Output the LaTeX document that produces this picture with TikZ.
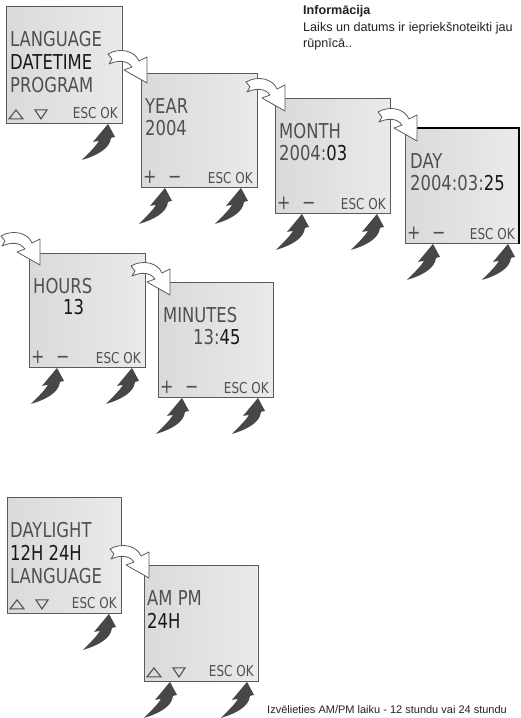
\documentclass[tikz,border=0pt]{standalone}
\usepackage{fontspec}
\setmainfont{Liberation Sans}
\newfontfamily\lcdfont[FakeStretch=0.8]{DejaVu Sans}
\definecolor{lcdgray}{HTML}{505050}
\definecolor{lcdblack}{HTML}{181818}
\definecolor{lcdA}{HTML}{DADADA}
\definecolor{lcdB}{HTML}{EAEAEA}
\definecolor{framecol}{HTML}{5A5A5A}
\definecolor{arrowdark}{HTML}{474747}
\definecolor{infotext}{HTML}{222222}
\tikzset{
  screen/.style={draw=framecol, line width=0.9pt, left color=lcdA, right color=lcdB,
    inner sep=0pt, anchor=north west},
  lcdtxt/.style={font=\lcdfont\fontsize{20.5}{20.5}\selectfont, inner sep=0pt,
    anchor=base west, text=lcdgray},
  lcdsel/.style={lcdtxt, text=lcdblack},
  keytxt/.style={font=\lcdfont\fontsize{15}{15}\selectfont, inner sep=0pt, text=lcdgray},
  signtxt/.style={font=\lcdfont\fontsize{20}{20}\selectfont, inner sep=0pt, text=lcdgray, anchor=base west},
  infotxt/.style={font=\fontsize{12.6}{15}\selectfont, inner sep=0pt, anchor=base west, text=infotext},
  hollowarrow/.pic={
    \draw[framecol, fill=white, line width=0.8pt, line join=round]
      (-2,-3) .. controls (10,-10) and (25,-6) .. (29,4) -- (37,0) -- (37,26)
      -- (14,13) -- (22,10) .. controls (17,3) and (8,3) .. (-1,7) -- (2,2) -- cycle;
  },
  pusharrow/.pic={
    \fill[arrowdark]
      (0,0) -- (7,13) -- (3,14) .. controls (2,25) and (-12,32) .. (-26,36)
      .. controls (-18,28) and (-12,22) .. (-9,17) -- (-15,18) -- cycle;
  },
  uptri/.pic={\draw[lcdgray, line width=1.1pt, line join=miter] (0,0) -- (14,0) -- (7,-9) -- cycle;},
  downtri/.pic={\draw[lcdgray, line width=1.1pt, line join=miter] (0,-9) -- (12,-9) -- (6,0) -- cycle;}
}
\begin{document}
\begin{tikzpicture}[x=1pt,y=-1pt]
\useasboundingbox (0,0) rectangle (520,718);

% ---------- info text ----------
\node[infotxt] (info1) at (303,14) {\textbf{Informācija}};
\node[infotxt] (info2) at (303,31) {Laiks un datums ir iepriekšnoteikti jau};
\node[infotxt] (info3) at (303,47) {rūpnīcā..};
\node[infotxt, font=\fontsize{11}{13}\selectfont] (info4) at (267,713) {Izvēlieties AM/PM laiku - 12 stundu vai 24 stundu};

% ---------- screens ----------
\node[screen, minimum width=116pt, minimum height=117pt] (b1) at (6,6) {};
\node[screen, minimum width=116pt, minimum height=114pt] (b2) at (141,73) {};
\node[screen, minimum width=115pt, minimum height=115pt] (b3) at (275,98) {};
\node[screen, minimum width=113pt, minimum height=115pt] (b4) at (405,128) {};
\draw[black, line width=1.3pt] (b4.north west) -- (b4.north east) -- (b4.south east);
\node[screen, minimum width=116pt, minimum height=114pt] (b5) at (29,253) {};
\node[screen, minimum width=115pt, minimum height=115pt] (b6) at (158,282) {};
\node[screen, minimum width=114pt, minimum height=116pt] (b7) at (7,497) {};
\node[screen, minimum width=114pt, minimum height=116pt] (b8) at (144,565) {};

% ---------- box 1 ----------
\node[lcdtxt] (b1a) at ([shift={(4,40)}]b1.north west) {LANGUAGE};
\node[lcdsel] (b1b) at ([shift={(4,63)}]b1.north west) {DATETIME};
\node[lcdtxt] (b1c) at ([shift={(4,86)}]b1.north west) {PROGRAM};
\pic at ([shift={(3,-5)}]b1.south west) {uptri};
\pic at ([shift={(29,-5)}]b1.south west) {downtri};
\node[keytxt, anchor=base east] (b1k) at ([shift={(-5,-5)}]b1.south east) {ESC OK};

% ---------- box 2 ----------
\node[lcdtxt] (b2a) at ([shift={(4,40)}]b2.north west) {YEAR};
\node[lcdtxt] (b2b) at ([shift={(4,62)}]b2.north west) {2004};
\node[signtxt] (b2p) at ([shift={(2,-4)}]b2.south west) {+};
\node[signtxt] (b2m) at ([shift={(27,-4)}]b2.south west) {−};
\node[keytxt, anchor=base east] (b2k) at ([shift={(-5,-4)}]b2.south east) {ESC OK};

% ---------- box 3 ----------
\node[lcdtxt] (b3a) at ([shift={(4,40)}]b3.north west) {MONTH};
\node[lcdtxt] (b3b) at ([shift={(4,62)}]b3.north west) {2004:\textcolor{lcdblack}{03}};
\node[signtxt] (b3p) at ([shift={(2,-4)}]b3.south west) {+};
\node[signtxt] (b3m) at ([shift={(27,-4)}]b3.south west) {−};
\node[keytxt, anchor=base east] (b3k) at ([shift={(-5,-4)}]b3.south east) {ESC OK};

% ---------- box 4 ----------
\node[lcdtxt] (b4a) at ([shift={(5,40)}]b4.north west) {DAY};
\node[lcdtxt] (b4b) at ([shift={(5,62)}]b4.north west) {2004:03:\textcolor{lcdblack}{25}};
\node[signtxt] (b4p) at ([shift={(2,-4)}]b4.south west) {+};
\node[signtxt] (b4m) at ([shift={(27,-4)}]b4.south west) {−};
\node[keytxt, anchor=base east] (b4k) at ([shift={(-4,-4)}]b4.south east) {ESC OK};

% ---------- box 5 ----------
\node[lcdtxt] (b5a) at ([shift={(4,40)}]b5.north west) {HOURS};
\node[lcdsel] (b5b) at ([shift={(34,61)}]b5.north west) {13};
\node[signtxt] (b5p) at ([shift={(2,-4)}]b5.south west) {+};
\node[signtxt] (b5m) at ([shift={(27,-4)}]b5.south west) {−};
\node[keytxt, anchor=base east] (b5k) at ([shift={(-5,-4)}]b5.south east) {ESC OK};

% ---------- box 6 ----------
\node[lcdtxt] (b6a) at ([shift={(5,40)}]b6.north west) {MINUTES};
\node[lcdtxt] (b6b) at ([shift={(35,62)}]b6.north west) {13:\textcolor{lcdblack}{45}};
\node[signtxt] (b6p) at ([shift={(2,-4)}]b6.south west) {+};
\node[signtxt] (b6m) at ([shift={(27,-4)}]b6.south west) {−};
\node[keytxt, anchor=base east] (b6k) at ([shift={(-5,-4)}]b6.south east) {ESC OK};

% ---------- box 7 ----------
\node[lcdtxt] (b7a) at ([shift={(3,40)}]b7.north west) {DAYLIGHT};
\node[lcdsel] (b7b) at ([shift={(3,63)}]b7.north west) {12H 24H};
\node[lcdtxt] (b7c) at ([shift={(3,86)}]b7.north west) {LANGUAGE};
\pic at ([shift={(3,-5)}]b7.south west) {uptri};
\pic at ([shift={(29,-5)}]b7.south west) {downtri};
\node[keytxt, anchor=base east] (b7k) at ([shift={(-5,-5)}]b7.south east) {ESC OK};

% ---------- box 8 ----------
\node[lcdtxt] (b8a) at ([shift={(3,40)}]b8.north west) {AM PM};
\node[lcdsel] (b8b) at ([shift={(3,63)}]b8.north west) {24H};
\pic at ([shift={(3,-5)}]b8.south west) {uptri};
\pic at ([shift={(29,-5)}]b8.south west) {downtri};
\node[keytxt, anchor=base east] (b8k) at ([shift={(-5,-5)}]b8.south east) {ESC OK};

% ---------- hollow transition arrows ----------
\pic at ([shift={(-31,-16)}]b2.north west) {hollowarrow};
\pic at ([shift={(-27,-13)}]b3.north west) {hollowarrow};
\pic at ([shift={(-25,-13)}]b4.north west) {hollowarrow};
\pic at ([shift={(-26,-14)}]b5.north west) {hollowarrow};
\pic at ([shift={(-25,-13)}]b6.north west) {hollowarrow};
\pic at ([shift={(-32,-13)}]b8.north west) {hollowarrow};

% ---------- push arrows ----------
\pic at ([shift={(102,0)}]b1.south west) {pusharrow};
\pic at ([shift={(24,0)}]b2.south west) {pusharrow};
\pic at ([shift={(100,0)}]b2.south west) {pusharrow};
\pic at ([shift={(27,0)}]b3.south west) {pusharrow};
\pic at ([shift={(102,0)}]b3.south west) {pusharrow};
\pic at ([shift={(28,0)}]b4.south west) {pusharrow};
\pic at ([shift={(103,0)}]b4.south west) {pusharrow};
\pic at ([shift={(28,0)}]b5.south west) {pusharrow};
\pic at ([shift={(103,0)}]b5.south west) {pusharrow};
\pic at ([shift={(24,0)}]b6.south west) {pusharrow};
\pic at ([shift={(100,0)}]b6.south west) {pusharrow};
\pic at ([shift={(102,0)}]b7.south west) {pusharrow};
\pic at ([shift={(26,0)}]b8.south west) {pusharrow};
\pic at ([shift={(103,0)}]b8.south west) {pusharrow};
\end{tikzpicture}
\end{document}
